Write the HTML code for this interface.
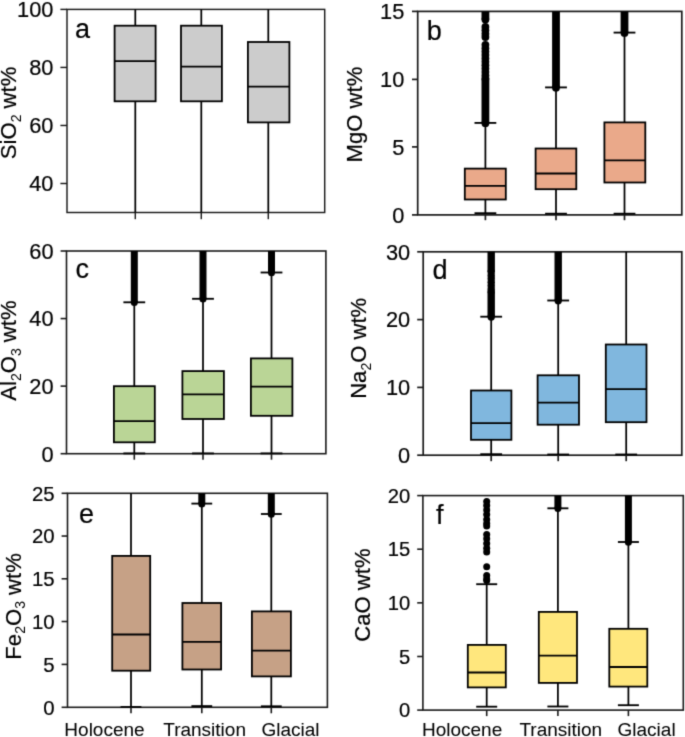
<!DOCTYPE html>
<html lang="en"><head><meta charset="utf-8">
<title>Box plots of oxide wt% by period</title>
<style>
html,body{margin:0;padding:0;background:#fff;}
body{width:685px;height:737px;overflow:hidden;}
svg{display:block;}
text{font-family:'Liberation Sans', Arial, Helvetica, sans-serif;fill:#000;stroke:#000;stroke-width:0.2px;stroke-linejoin:round;}
.tk{font-size:21.8px;text-anchor:end;}
.yl{font-size:22.1px;text-anchor:middle;white-space:pre;}
.xl{font-size:19px;text-anchor:middle;}
.lt{font-size:27px;text-anchor:start;}
.sb{font-size:14px;stroke-width:0;}
.xl{stroke-width:0.05px;}
.ax{fill:none;stroke:#1a1a1a;stroke-width:var(--aw,1.6);}
.bx{stroke:#000;stroke-width:1.8;}
.wh{stroke:#000;stroke-width:1.75;fill:none;}
.cp{stroke:#000;stroke-width:1.85;fill:none;}
.ot{stroke:#000;stroke-width:7.7;stroke-linecap:butt;fill:none;}
.dt{fill:#000;}
</style></head><body>
<svg width="685" height="737" viewBox="0 0 685 737">
<defs><filter id="soft" x="0" y="0" width="685" height="737" filterUnits="userSpaceOnUse" color-interpolation-filters="sRGB"><feConvolveMatrix order="3" kernelMatrix="0.01917 0.10012 0.01917 0.10012 0.52283 0.10012 0.01917 0.10012 0.01917" divisor="1" edgeMode="duplicate" preserveAlpha="true"/></filter></defs>
<rect x="0" y="0" width="685" height="737" fill="#ffffff"/>
<g filter="url(#soft)">
<rect x="-20" y="-20" width="725" height="777" fill="#ffffff"/>
<g id="panel-a" style="--aw:1.45">
<rect class="ax" x="67" y="9.4" width="257.7" height="203.1"/>
<line class="ax" x1="60.4" y1="9.4" x2="67" y2="9.4"/>
<text class="tk" style="font-size:21.8px" x="53.4" y="17.2">100</text>
<line class="ax" x1="60.4" y1="67.43" x2="67" y2="67.43"/>
<text class="tk" style="font-size:21.8px" x="53.4" y="75.23">80</text>
<line class="ax" x1="60.4" y1="125.47" x2="67" y2="125.47"/>
<text class="tk" style="font-size:21.8px" x="53.4" y="133.27">60</text>
<line class="ax" x1="60.4" y1="183.5" x2="67" y2="183.5"/>
<text class="tk" style="font-size:21.8px" x="53.4" y="191.3">40</text>
<line class="wh" x1="135.3" y1="9.4" x2="135.3" y2="212.5"/>
<rect class="bx" x="114.6" y="25.7" width="41" height="75.6" fill="#cccccc"/>
<line class="bx" x1="114.6" y1="61.2" x2="155.6" y2="61.2"/>
<line class="ax" x1="135.3" y1="212.5" x2="135.3" y2="219.2"/>
<line class="wh" x1="201.3" y1="9.4" x2="201.3" y2="212.5"/>
<rect class="bx" x="181" y="25.7" width="40.9" height="75.6" fill="#cccccc"/>
<line class="bx" x1="181" y1="66.7" x2="221.9" y2="66.7"/>
<line class="ax" x1="201.3" y1="212.5" x2="201.3" y2="219.2"/>
<line class="wh" x1="268.3" y1="9.4" x2="268.3" y2="212.5"/>
<rect class="bx" x="247.9" y="42" width="41.5" height="80.4" fill="#cccccc"/>
<line class="bx" x1="247.9" y1="86.6" x2="289.4" y2="86.6"/>
<line class="ax" x1="268.3" y1="212.5" x2="268.3" y2="219.2"/>
<text class="lt" x="75" y="38.2">a</text>
<text class="yl" transform="translate(16.4 112.9) rotate(-90)"><tspan>SiO</tspan><tspan class="sb" dy="4.8">2</tspan><tspan dy="-4.8"> wt%</tspan></text>
</g>
<g id="panel-b" style="--aw:1.7">
<rect class="ax" x="417.7" y="11.4" width="264.1" height="203.5"/>
<line class="ax" x1="412" y1="11.4" x2="417.7" y2="11.4"/>
<text class="tk" style="font-size:21.8px" x="404.3" y="19.2">15</text>
<line class="ax" x1="412" y1="79.4" x2="417.7" y2="79.4"/>
<text class="tk" style="font-size:21.8px" x="404.3" y="87.2">10</text>
<line class="ax" x1="412" y1="146.9" x2="417.7" y2="146.9"/>
<text class="tk" style="font-size:21.8px" x="404.3" y="154.7">5</text>
<line class="ax" x1="412" y1="214.9" x2="417.7" y2="214.9"/>
<text class="tk" style="font-size:21.8px" x="404.3" y="222.7">0</text>
<line class="ot" style="stroke-width:7.8" x1="485.4" y1="11.4" x2="485.4" y2="19.6"/>
<circle class="dt" cx="485.4" cy="19.6" r="3.9"/>
<circle class="dt" cx="485.4" cy="27" r="3.9"/>
<circle class="dt" cx="485.4" cy="30.3" r="3.9"/>
<circle class="dt" cx="485.4" cy="33.8" r="3.9"/>
<circle class="dt" cx="485.4" cy="37" r="3.9"/>
<circle class="dt" cx="485.4" cy="44.8" r="3.9"/>
<circle class="dt" cx="485.4" cy="48.3" r="3.9"/>
<circle class="dt" cx="485.4" cy="51.6" r="3.9"/>
<circle class="dt" cx="485.4" cy="55" r="3.9"/>
<circle class="dt" cx="485.4" cy="58.4" r="3.9"/>
<circle class="dt" cx="485.4" cy="61.8" r="3.9"/>
<circle class="dt" cx="485.4" cy="65.2" r="3.9"/>
<circle class="dt" cx="485.4" cy="68.6" r="3.9"/>
<circle class="dt" cx="485.4" cy="72" r="3.9"/>
<circle class="dt" cx="485.4" cy="75.4" r="3.9"/>
<circle class="dt" cx="485.4" cy="78.5" r="3.9"/>
<line class="ot" style="stroke-width:7.8" x1="485.4" y1="78.5" x2="485.4" y2="123.2"/>
<circle class="dt" cx="485.4" cy="123.2" r="3.9"/>
<line class="wh" x1="485.4" y1="122.9" x2="485.4" y2="213.2"/>
<line class="cp" x1="474.5" y1="122.9" x2="496.3" y2="122.9"/>
<line class="cp" x1="474.5" y1="213.2" x2="496.3" y2="213.2"/>
<rect class="bx" x="464.8" y="168.6" width="41" height="30.9" fill="#eaa98a"/>
<line class="bx" x1="464.8" y1="185.9" x2="505.8" y2="185.9"/>
<line class="ax" x1="485.4" y1="214.9" x2="485.4" y2="220.2"/>
<line class="ot" style="stroke-width:7.8" x1="556" y1="11.4" x2="556" y2="87.7"/>
<circle class="dt" cx="556" cy="87.7" r="3.9"/>
<line class="wh" x1="556" y1="87.4" x2="556" y2="213.7"/>
<line class="cp" x1="545.1" y1="87.4" x2="566.9" y2="87.4"/>
<line class="cp" x1="545.1" y1="213.7" x2="566.9" y2="213.7"/>
<rect class="bx" x="535.6" y="148.5" width="40.7" height="40.7" fill="#eaa98a"/>
<line class="bx" x1="535.6" y1="173.5" x2="576.3" y2="173.5"/>
<line class="ax" x1="556" y1="214.9" x2="556" y2="220.2"/>
<line class="ot" style="stroke-width:7.8" x1="624.5" y1="11.4" x2="624.5" y2="32.9"/>
<circle class="dt" cx="624.5" cy="32.9" r="3.9"/>
<line class="wh" x1="624.5" y1="32.6" x2="624.5" y2="213.7"/>
<line class="cp" x1="613.6" y1="32.6" x2="635.4" y2="32.6"/>
<line class="cp" x1="613.6" y1="213.7" x2="635.4" y2="213.7"/>
<rect class="bx" x="604.4" y="122.4" width="40.9" height="60.1" fill="#eaa98a"/>
<line class="bx" x1="604.4" y1="160.4" x2="645.3" y2="160.4"/>
<line class="ax" x1="624.5" y1="214.9" x2="624.5" y2="220.2"/>
<text class="lt" x="426.8" y="40">b</text>
<text class="yl" transform="translate(362.3 114.6) rotate(-90)"><tspan>MgO wt%</tspan></text>
</g>
<g id="panel-c">
<rect class="ax" x="66.5" y="251" width="259.4" height="202.7"/>
<line class="ax" x1="60.6" y1="251" x2="66.5" y2="251"/>
<text class="tk" style="font-size:21.8px" x="53.6" y="258.8">60</text>
<line class="ax" x1="60.6" y1="318.57" x2="66.5" y2="318.57"/>
<text class="tk" style="font-size:21.8px" x="53.6" y="326.37">40</text>
<line class="ax" x1="60.6" y1="386.13" x2="66.5" y2="386.13"/>
<text class="tk" style="font-size:21.8px" x="53.6" y="393.93">20</text>
<line class="ax" x1="60.6" y1="453.7" x2="66.5" y2="453.7"/>
<text class="tk" style="font-size:21.8px" x="53.6" y="461.5">0</text>
<line class="ot" style="stroke-width:7" x1="134.3" y1="251" x2="134.3" y2="302.6"/>
<circle class="dt" cx="134.3" cy="302.6" r="3.5"/>
<line class="wh" x1="134.3" y1="302.3" x2="134.3" y2="453.4"/>
<line class="cp" x1="123.4" y1="302.3" x2="145.2" y2="302.3"/>
<line class="cp" x1="123.4" y1="453.4" x2="145.2" y2="453.4"/>
<rect class="bx" x="113.9" y="386.2" width="40.9" height="56.1" fill="#bad596"/>
<line class="bx" x1="113.9" y1="421.2" x2="154.8" y2="421.2"/>
<line class="ax" x1="134.3" y1="453.7" x2="134.3" y2="459.7"/>
<line class="ot" style="stroke-width:7" x1="203" y1="251" x2="203" y2="299.1"/>
<circle class="dt" cx="203" cy="299.1" r="3.5"/>
<line class="wh" x1="203" y1="298.8" x2="203" y2="453.4"/>
<line class="cp" x1="192.1" y1="298.8" x2="213.9" y2="298.8"/>
<line class="cp" x1="192.1" y1="453.4" x2="213.9" y2="453.4"/>
<rect class="bx" x="182.4" y="371.1" width="41.5" height="47.9" fill="#bad596"/>
<line class="bx" x1="182.4" y1="394.4" x2="223.9" y2="394.4"/>
<line class="ax" x1="203" y1="453.7" x2="203" y2="459.7"/>
<line class="ot" style="stroke-width:7" x1="271.5" y1="251" x2="271.5" y2="272.8"/>
<circle class="dt" cx="271.5" cy="272.8" r="3.5"/>
<line class="wh" x1="271.5" y1="272.5" x2="271.5" y2="453.4"/>
<line class="cp" x1="260.6" y1="272.5" x2="282.4" y2="272.5"/>
<line class="cp" x1="260.6" y1="453.4" x2="282.4" y2="453.4"/>
<rect class="bx" x="250.9" y="358.4" width="41.5" height="57.4" fill="#bad596"/>
<line class="bx" x1="250.9" y1="386.7" x2="292.4" y2="386.7"/>
<line class="ax" x1="271.5" y1="453.7" x2="271.5" y2="459.7"/>
<text class="lt" x="75.4" y="277.8">c</text>
<text class="yl" transform="translate(16.1 350.6) rotate(-90)"><tspan>Al</tspan><tspan class="sb" dy="4.8">2</tspan><tspan dy="-4.8">O</tspan><tspan class="sb" dy="4.8">3</tspan><tspan dy="-4.8"> wt%</tspan></text>
</g>
<g id="panel-d" style="--aw:1.7">
<rect class="ax" x="423.2" y="251.8" width="258.6" height="203.4"/>
<line class="ax" x1="417.2" y1="251.8" x2="423.2" y2="251.8"/>
<text class="tk" style="font-size:21.8px" x="410.2" y="259.6">30</text>
<line class="ax" x1="417.2" y1="319.6" x2="423.2" y2="319.6"/>
<text class="tk" style="font-size:21.8px" x="410.2" y="327.4">20</text>
<line class="ax" x1="417.2" y1="387.4" x2="423.2" y2="387.4"/>
<text class="tk" style="font-size:21.8px" x="410.2" y="395.2">10</text>
<line class="ax" x1="417.2" y1="455.2" x2="423.2" y2="455.2"/>
<text class="tk" style="font-size:21.8px" x="410.2" y="463">0</text>
<line class="ot" style="stroke-width:7.4" x1="491.2" y1="251.8" x2="491.2" y2="272"/>
<circle class="dt" cx="491.2" cy="272" r="3.7"/>
<circle class="dt" cx="491.2" cy="275.4" r="3.7"/>
<circle class="dt" cx="491.2" cy="278.8" r="3.7"/>
<circle class="dt" cx="491.2" cy="282.2" r="3.7"/>
<circle class="dt" cx="491.2" cy="285.6" r="3.7"/>
<circle class="dt" cx="491.2" cy="289" r="3.7"/>
<circle class="dt" cx="491.2" cy="291.5" r="3.7"/>
<line class="ot" style="stroke-width:7.4" x1="491.2" y1="291.5" x2="491.2" y2="317"/>
<circle class="dt" cx="491.2" cy="317" r="3.7"/>
<line class="wh" x1="491.2" y1="316.7" x2="491.2" y2="454.2"/>
<line class="cp" x1="480.3" y1="316.7" x2="502.1" y2="316.7"/>
<line class="cp" x1="480.3" y1="454.2" x2="502.1" y2="454.2"/>
<rect class="bx" x="471" y="390.5" width="40.4" height="49.3" fill="#80b7de"/>
<line class="bx" x1="471" y1="423.2" x2="511.4" y2="423.2"/>
<line class="ax" x1="491.2" y1="455.2" x2="491.2" y2="461.2"/>
<line class="ot" style="stroke-width:7.4" x1="558.2" y1="251.8" x2="558.2" y2="300.8"/>
<circle class="dt" cx="558.2" cy="300.8" r="3.7"/>
<line class="wh" x1="558.2" y1="300.5" x2="558.2" y2="454.5"/>
<line class="cp" x1="547.3" y1="300.5" x2="569.1" y2="300.5"/>
<line class="cp" x1="547.3" y1="454.5" x2="569.1" y2="454.5"/>
<rect class="bx" x="537.6" y="375.3" width="41.4" height="49.4" fill="#80b7de"/>
<line class="bx" x1="537.6" y1="402.6" x2="579" y2="402.6"/>
<line class="ax" x1="558.2" y1="455.2" x2="558.2" y2="461.2"/>
<line class="wh" x1="626.2" y1="251.8" x2="626.2" y2="454.5"/>
<line class="cp" x1="615.3" y1="454.5" x2="637.1" y2="454.5"/>
<rect class="bx" x="605.8" y="344.5" width="40.7" height="77.7" fill="#80b7de"/>
<line class="bx" x1="605.8" y1="389.2" x2="646.5" y2="389.2"/>
<line class="ax" x1="626.2" y1="455.2" x2="626.2" y2="461.2"/>
<text class="lt" x="432.6" y="278.8">d</text>
<text class="yl" transform="translate(366.2 348.3) rotate(-90)"><tspan>Na</tspan><tspan class="sb" dy="4.8">2</tspan><tspan dy="-4.8">O wt%</tspan></text>
</g>
<g id="panel-e">
<rect class="ax" x="67.5" y="493.3" width="259.9" height="214"/>
<line class="ax" x1="61.6" y1="493.3" x2="67.5" y2="493.3"/>
<text class="tk" style="font-size:20.4px" x="54.6" y="500.6">25</text>
<line class="ax" x1="61.6" y1="536.04" x2="67.5" y2="536.04"/>
<text class="tk" style="font-size:20.4px" x="54.6" y="543.34">20</text>
<line class="ax" x1="61.6" y1="578.78" x2="67.5" y2="578.78"/>
<text class="tk" style="font-size:20.4px" x="54.6" y="586.08">15</text>
<line class="ax" x1="61.6" y1="621.52" x2="67.5" y2="621.52"/>
<text class="tk" style="font-size:20.4px" x="54.6" y="628.82">10</text>
<line class="ax" x1="61.6" y1="664.4" x2="67.5" y2="664.4"/>
<text class="tk" style="font-size:20.4px" x="54.6" y="671.7">5</text>
<line class="ax" x1="61.6" y1="707.3" x2="67.5" y2="707.3"/>
<text class="tk" style="font-size:20.4px" x="54.6" y="714.6">0</text>
<line class="wh" x1="131" y1="493.3" x2="131" y2="707"/>
<line class="cp" x1="120.6" y1="707" x2="141.4" y2="707"/>
<rect class="bx" x="112.2" y="555.9" width="38" height="114.8" fill="#c6a186"/>
<line class="bx" x1="112.2" y1="634.5" x2="150.2" y2="634.5"/>
<line class="ax" x1="131" y1="707.3" x2="131" y2="713.3"/>
<line class="ot" style="stroke-width:7" x1="201.8" y1="493.3" x2="201.8" y2="503.9"/>
<circle class="dt" cx="201.8" cy="503.9" r="3.5"/>
<line class="wh" x1="201.8" y1="503.6" x2="201.8" y2="706.1"/>
<line class="cp" x1="191.4" y1="503.6" x2="212.2" y2="503.6"/>
<line class="cp" x1="191.4" y1="706.1" x2="212.2" y2="706.1"/>
<rect class="bx" x="182.4" y="603" width="38.7" height="66.5" fill="#c6a186"/>
<line class="bx" x1="182.4" y1="641.9" x2="221.1" y2="641.9"/>
<line class="ax" x1="201.8" y1="707.3" x2="201.8" y2="713.3"/>
<line class="ot" style="stroke-width:7" x1="271.3" y1="493.3" x2="271.3" y2="514.3"/>
<circle class="dt" cx="271.3" cy="514.3" r="3.5"/>
<line class="wh" x1="271.3" y1="514" x2="271.3" y2="706.3"/>
<line class="cp" x1="260.9" y1="514" x2="281.7" y2="514"/>
<line class="cp" x1="260.9" y1="706.3" x2="281.7" y2="706.3"/>
<rect class="bx" x="251.9" y="611.4" width="39" height="65" fill="#c6a186"/>
<line class="bx" x1="251.9" y1="650.6" x2="290.9" y2="650.6"/>
<line class="ax" x1="271.3" y1="707.3" x2="271.3" y2="713.3"/>
<text class="lt" x="79" y="523.4">e</text>
<text class="yl" transform="translate(20.5 606.4) rotate(-90)"><tspan>Fe</tspan><tspan class="sb" dy="4.8">2</tspan><tspan dy="-4.8">O</tspan><tspan class="sb" dy="4.8">3</tspan><tspan dy="-4.8"> wt%</tspan></text>
</g>
<g id="panel-f">
<rect class="ax" x="422.9" y="495.6" width="260.4" height="214.5"/>
<line class="ax" x1="417.2" y1="495.6" x2="422.9" y2="495.6"/>
<text class="tk" style="font-size:20.2px" x="410.2" y="502.83">20</text>
<line class="ax" x1="417.2" y1="549.2" x2="422.9" y2="549.2"/>
<text class="tk" style="font-size:20.2px" x="410.2" y="556.43">15</text>
<line class="ax" x1="417.2" y1="602.85" x2="422.9" y2="602.85"/>
<text class="tk" style="font-size:20.2px" x="410.2" y="610.08">10</text>
<line class="ax" x1="417.2" y1="656.5" x2="422.9" y2="656.5"/>
<text class="tk" style="font-size:20.2px" x="410.2" y="663.73">5</text>
<line class="ax" x1="417.2" y1="710.1" x2="422.9" y2="710.1"/>
<text class="tk" style="font-size:20.2px" x="410.2" y="717.33">0</text>
<circle class="dt" cx="486.7" cy="501.4" r="3.5"/>
<circle class="dt" cx="486.7" cy="505.6" r="3.5"/>
<circle class="dt" cx="486.7" cy="510" r="3.5"/>
<circle class="dt" cx="486.7" cy="514.6" r="3.5"/>
<circle class="dt" cx="486.7" cy="519.4" r="3.5"/>
<circle class="dt" cx="486.7" cy="523.6" r="3.5"/>
<circle class="dt" cx="486.7" cy="526" r="3.5"/>
<circle class="dt" cx="486.7" cy="534.4" r="3.5"/>
<circle class="dt" cx="486.7" cy="538.8" r="3.5"/>
<circle class="dt" cx="486.7" cy="543.6" r="3.5"/>
<circle class="dt" cx="486.7" cy="548.2" r="3.5"/>
<circle class="dt" cx="486.7" cy="552" r="3.5"/>
<circle class="dt" cx="486.7" cy="566.8" r="3.5"/>
<circle class="dt" cx="486.7" cy="575.6" r="3.5"/>
<circle class="dt" cx="486.7" cy="579" r="3.5"/>
<circle class="dt" cx="486.7" cy="580.6" r="3.5"/>
<line class="wh" x1="486.7" y1="584.2" x2="486.7" y2="706.7"/>
<line class="cp" x1="476.2" y1="584.2" x2="497.2" y2="584.2"/>
<line class="cp" x1="476.2" y1="706.7" x2="497.2" y2="706.7"/>
<rect class="bx" x="467.8" y="644.9" width="38" height="42.5" fill="#ffe77d"/>
<line class="bx" x1="467.8" y1="672.5" x2="505.8" y2="672.5"/>
<line class="ax" x1="486.7" y1="710.1" x2="486.7" y2="716.1"/>
<line class="ot" style="stroke-width:7" x1="557.9" y1="495.6" x2="557.9" y2="508.6"/>
<circle class="dt" cx="557.9" cy="508.6" r="3.5"/>
<line class="wh" x1="557.9" y1="508.3" x2="557.9" y2="706.5"/>
<line class="cp" x1="547.4" y1="508.3" x2="568.4" y2="508.3"/>
<line class="cp" x1="547.4" y1="706.5" x2="568.4" y2="706.5"/>
<rect class="bx" x="538.8" y="611.9" width="38.2" height="71" fill="#ffe77d"/>
<line class="bx" x1="538.8" y1="655.6" x2="577" y2="655.6"/>
<line class="ax" x1="557.9" y1="710.1" x2="557.9" y2="716.1"/>
<line class="ot" style="stroke-width:7" x1="628.4" y1="495.6" x2="628.4" y2="542.3"/>
<circle class="dt" cx="628.4" cy="542.3" r="3.5"/>
<line class="wh" x1="628.4" y1="542" x2="628.4" y2="705.2"/>
<line class="cp" x1="617.9" y1="542" x2="638.9" y2="542"/>
<line class="cp" x1="617.9" y1="705.2" x2="638.9" y2="705.2"/>
<rect class="bx" x="609.3" y="628.8" width="38" height="57.8" fill="#ffe77d"/>
<line class="bx" x1="609.3" y1="667" x2="647.3" y2="667"/>
<line class="ax" x1="628.4" y1="710.1" x2="628.4" y2="716.1"/>
<text class="lt" x="436" y="524.4">f</text>
<text class="yl" transform="translate(370.2 595.1) rotate(-90)"><tspan>CaO wt%</tspan></text>
</g>
<g id="x-labels">
<text class="xl" x="104.5" y="735.7">Holocene</text>
<text class="xl" x="204.6" y="735.7">Transition</text>
<text class="xl" x="290.5" y="735.7">Glacial</text>
<text class="xl" x="462.1" y="735.7">Holocene</text>
<text class="xl" x="560.8" y="735.7">Transition</text>
<text class="xl" x="646.6" y="735.7">Glacial</text>
</g>
</g>
</svg>
</body></html>
